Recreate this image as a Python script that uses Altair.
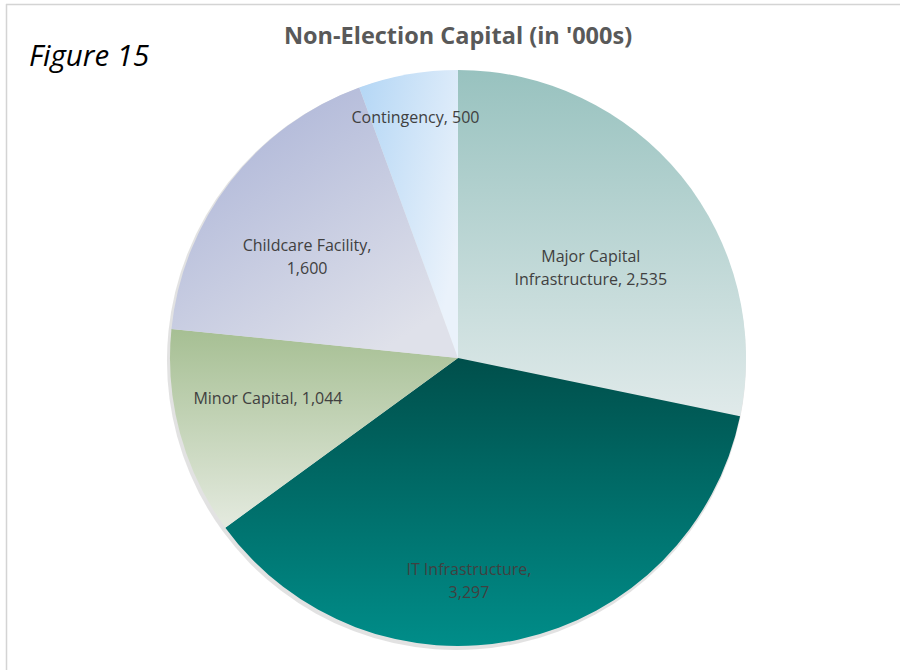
import altair as alt
import pandas as pd

categories = ["Major Capital Infrastructure", "IT Infrastructure", "Minor Capital",
              "Childcare Facility", "Contingency"]
values = [2535, 3297, 1044, 1600, 500]
label_lines = [["Major Capital", "Infrastructure, 2,535"],
               ["IT Infrastructure,", "3,297"],
               ["Minor Capital, 1,044"],
               ["Childcare Facility,", "1,600"],
               ["Contingency, 500"]]

total = sum(values)
starts, ends, mids = [], [], []
acc = 0
for v in values:
    starts.append(acc)
    ends.append(acc + v)
    mids.append(acc + v / 2)
    acc += v
df = pd.DataFrame({"cat": categories, "value": values, "start": starts,
                   "end": ends, "mid": mids,
                   "label": label_lines})

# style settings (not data)
CX, CY, R = 458, 358, 288
grads = {
    "Major Capital Infrastructure": (["#98c2bf", "#e0eaea"], (0, 0, 0, 1)),
    "IT Infrastructure": (["#004f4b", "#008d89"], (0, 0, 0, 1)),
    "Minor Capital": (["#a6bf93", "#e4eadf"], (0, 0, 0, 1)),
    "Childcare Facility": (["#a6afd5", "#dfe1ea"], (0, 0, 0.7, 1)),
    "Contingency": (["#b3d6f5", "#eaf2fb"], (0, 0, 1, 0.6)),
}
label_pos = {
    "Major Capital Infrastructure": (170, 1, 6),
    "IT Infrastructure": (222, -36, -5),
    "Minor Capital": (200, 3, -11),
    "Childcare Facility": (176, -12, -4),
    "Contingency": (250, 1, 6),
}

theta_scale = alt.Scale(domain=[0, total], range=[0, 6.283185307179586])

layers = []

# frame lines
frame = pd.DataFrame({"k": [0]})
layers.append(alt.Chart(frame).mark_rule(color="#d4d4d4", strokeWidth=1.5).encode(
    x=alt.value(6), x2=alt.value(900), y=alt.value(4.5)))
layers.append(alt.Chart(frame).mark_rule(color="#d4d4d4", strokeWidth=1.5).encode(
    x=alt.value(6.5), y=alt.value(4), y2=alt.value(670)))

# shadow
layers.append(alt.Chart(df).mark_arc(radius=R + 1.5, fill="#8a8a8a", opacity=0.25).encode(
    theta=alt.Theta("start:Q", scale=theta_scale, stack=None),
    theta2="end:Q",
    x=alt.value(CX - 1.5), y=alt.value(CY + 2.5)))

for cat in categories:
    cols, (x1, y1, x2, y2) = grads[cat]
    g = alt.Gradient(gradient="linear",
                     stops=[alt.GradientStop(color=cols[0], offset=0),
                            alt.GradientStop(color=cols[1], offset=1)],
                     x1=x1, y1=y1, x2=x2, y2=y2)
    layers.append(alt.Chart(df).transform_filter(alt.datum.cat == cat).mark_arc(
        radius=R, fill=g).encode(
        theta=alt.Theta("start:Q", scale=theta_scale, stack=None),
        theta2="end:Q",
        x=alt.value(CX), y=alt.value(CY)))

for cat in categories:
    r, dx, dy = label_pos[cat]
    layers.append(alt.Chart(df).transform_filter(alt.datum.cat == cat).mark_text(
        radius=r, dx=dx, dy=dy, font="Open Sans", fontSize=16, color="#404040",
        lineHeight=23, baseline="middle", align="center").encode(
        theta=alt.Theta("mid:Q", scale=theta_scale, stack=None),
        text="label",
        x=alt.value(CX), y=alt.value(CY)))

titles = pd.DataFrame({"t": ["Non-Election Capital (in '000s)"]})
layers.append(alt.Chart(titles).mark_text(font="Open Sans", fontWeight="bold", fontSize=23.5,
                                          color="#595959", align="center", baseline="middle").encode(
    text="t", x=alt.value(458), y=alt.value(37)))
fig = pd.DataFrame({"t": ["Figure 15"]})
layers.append(alt.Chart(fig).mark_text(font="Open Sans", fontStyle="italic", fontSize=29.5,
                                       color="#000000", align="left", baseline="middle").encode(
    text="t", x=alt.value(29), y=alt.value(57)))

chart = alt.layer(*layers).properties(
    width=900, height=670, autosize=alt.AutoSizeParams(type="none"), padding=0,
    background="white"
).configure_view(stroke=None)

chart.save("out.html", embed_options={"renderer": "svg", "actions": False})
